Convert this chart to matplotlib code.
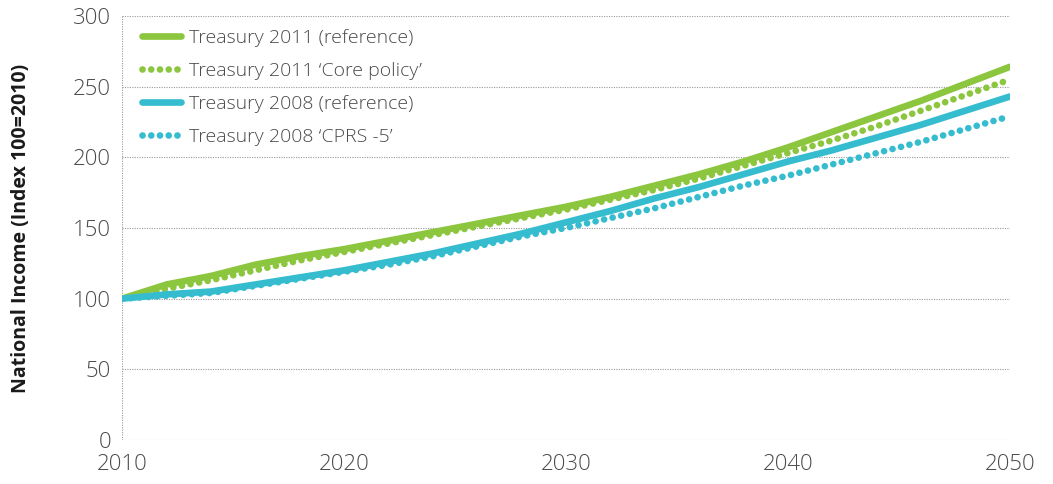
import matplotlib
matplotlib.use("Agg")
import matplotlib.pyplot as plt

years = [2010, 2012, 2014, 2016, 2018, 2020, 2022, 2024, 2026, 2028, 2030,
         2032, 2034, 2036, 2038, 2040, 2042, 2044, 2046, 2048, 2050]
t2011_ref = [100, 110, 116, 124, 130, 135, 141, 147, 153, 159, 165,
             172, 180, 188, 197, 207, 218, 229, 240, 252, 264]
t2011_core = [100, 107, 113, 120, 127, 133, 139, 145, 151, 157, 163,
              170, 177, 185, 194, 203, 212, 222, 233, 244, 255]
t2008_ref = [100, 103, 105, 110, 115, 120, 126, 132, 139, 146, 154,
             162, 171, 179, 188, 197, 205, 214, 223, 233, 243]
t2008_cprs = [100, 102, 104, 109, 114, 119, 124, 130, 137, 144, 150,
              157, 164, 172, 180, 187, 195, 203, 211, 220, 229]
labels = ["Treasury 2011 (reference)", "Treasury 2011 \u2018Core policy\u2019",
          "Treasury 2008 (reference)", "Treasury 2008 \u2018CPRS -5\u2019"]
xticks = [2010, 2020, 2030, 2040, 2050]
yticks = [0, 50, 100, 150, 200, 250, 300]

green = "#8cc63e"
cyan = "#36bccf"
plt.rcParams['font.family'] = ['Open Sans', 'DejaVu Sans']

fig = plt.figure(figsize=(10.53, 4.84), dpi=100)
ax = fig.add_axes([0.116, 0.091, 0.843, 0.876])

dot = (0, (0.01, 1.3))
ax.plot(years, t2011_ref, color=green, lw=4.8, solid_capstyle='round', label=labels[0], zorder=4)
ax.plot(years, t2011_core, color=green, lw=4.8, linestyle=dot, dash_capstyle='round', label=labels[1], zorder=3)
ax.plot(years, t2008_ref, color=cyan, lw=4.8, solid_capstyle='round', label=labels[2], zorder=4)
ax.plot(years, t2008_cprs, color=cyan, lw=4.8, linestyle=dot, dash_capstyle='round', label=labels[3], zorder=3)

ax.set_xlim(2010, 2050)
ax.set_ylim(0, 300)
ax.set_xticks(xticks)
ax.set_yticks(yticks)
for y in yticks:
    ax.axhline(y, color="#999999", lw=0.8, linestyle=(0, (1, 1.2)), zorder=1)
ax.axvline(2010, color="#999999", lw=0.8, linestyle=(0, (1, 1.2)), zorder=1)
for s in ax.spines.values():
    s.set_visible(False)
ax.tick_params(length=0, labelsize=16, labelcolor="#4a4a4a", pad=8)
ax.tick_params(axis='x', pad=10)
for t in ax.get_xticklabels() + ax.get_yticklabels():
    t.set_fontweight('light')
ax.set_ylabel("National Income (Index 100=2010)", fontsize=14, fontweight='bold',
              color="#1a1a1a", labelpad=30)

leg = ax.legend(loc='upper left', bbox_to_anchor=(0.008, 1.0), frameon=False,
                fontsize=14, handlelength=2.0, handletextpad=0.4, labelspacing=0.78,
                borderaxespad=0.25)
for t in leg.get_texts():
    t.set_color("#4a4a4a")
    t.set_fontweight('light')

fig.savefig("out.png", dpi=100)
